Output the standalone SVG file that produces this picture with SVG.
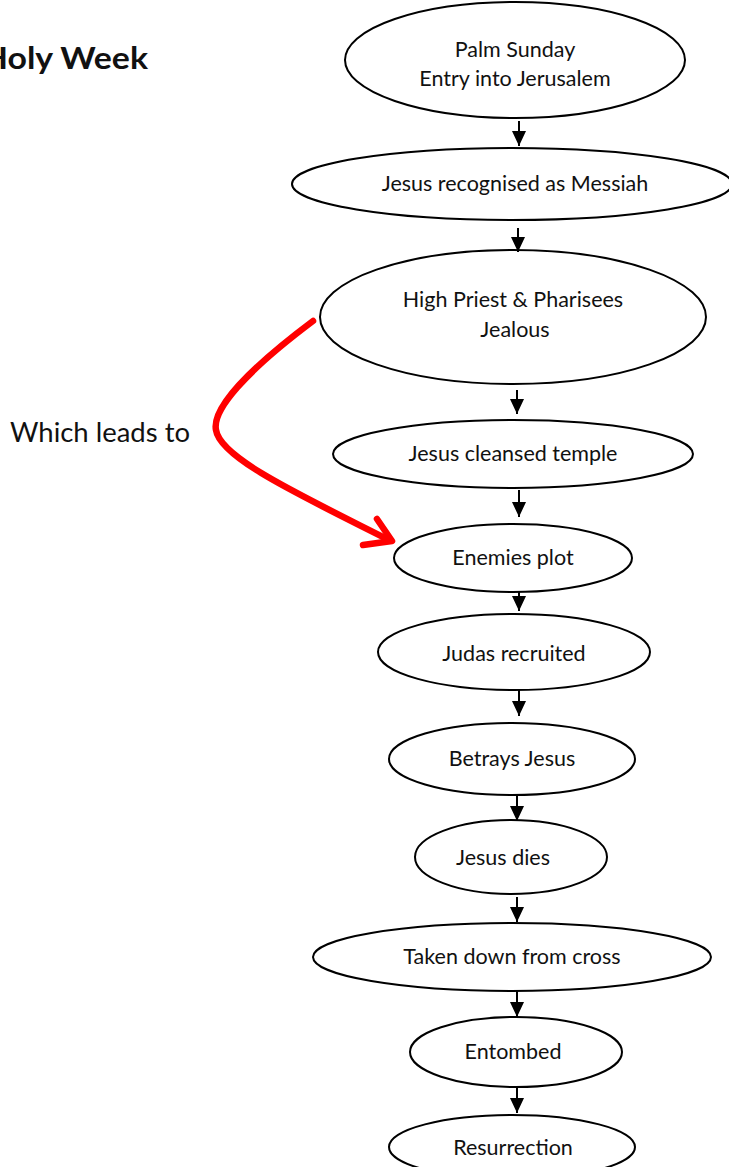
<svg xmlns="http://www.w3.org/2000/svg" width="729" height="1167" viewBox="0 0 729 1167">
<style>
.n ellipse{fill:#fff;stroke:#000;stroke-width:2}
.n text{font-family:Lato,"Liberation Sans",sans-serif;font-size:21.5px;fill:#111;text-anchor:middle}
.c line{stroke:#000;stroke-width:2}
</style>
<defs>
<marker id="ah" viewBox="0 0 15 14" refX="15" refY="7" markerWidth="15" markerHeight="14" markerUnits="userSpaceOnUse" orient="auto">
<path d="M0,0 L15,7 L0,14 z" fill="#000"/>
</marker>
</defs>
<rect width="729" height="1167" fill="#fff"/>
<text id="title" x="148" y="69" text-anchor="end" font-family="Lato,'Liberation Sans',sans-serif" font-weight="bold" font-size="30" textLength="166" lengthAdjust="spacingAndGlyphs" fill="#111">Holy Week</text>
<text id="label" x="10" y="442" font-family="Lato,'Liberation Sans',sans-serif" font-size="27" textLength="180" lengthAdjust="spacingAndGlyphs" fill="#111">Which leads to</text>
<g id="n1" class="n"><ellipse cx="515" cy="60" rx="170" ry="58"/><text x="515" y="57">Palm Sunday</text><text x="515" y="86">Entry into Jerusalem</text></g>
<g id="n2" class="n"><ellipse cx="512" cy="184" rx="220" ry="36"/><text x="515" y="191">Jesus recognised as Messiah</text></g>
<g id="n3" class="n"><ellipse cx="513" cy="317" rx="193" ry="67"/><text x="513" y="307">High Priest &amp; Pharisees</text><text x="515" y="337">Jealous</text></g>
<g id="n4" class="n"><ellipse cx="513" cy="454" rx="180" ry="34"/><text x="513" y="461">Jesus cleansed temple</text></g>
<g id="n5" class="n"><ellipse cx="513" cy="558" rx="119" ry="34"/><text x="513" y="565">Enemies plot</text></g>
<g id="n6" class="n"><ellipse cx="514" cy="652" rx="136" ry="38"/><text x="514" y="661">Judas recruited</text></g>
<g id="n7" class="n"><ellipse cx="512" cy="759" rx="123" ry="36"/><text x="512" y="766">Betrays Jesus</text></g>
<g id="n8" class="n"><ellipse cx="511" cy="857" rx="96" ry="37"/><text x="503" y="865">Jesus dies</text></g>
<g id="n9" class="n"><ellipse cx="512" cy="957" rx="199" ry="34"/><text x="512" y="964">Taken down from cross</text></g>
<g id="n10" class="n"><ellipse cx="516" cy="1052" rx="106" ry="35"/><text x="513" y="1059">Entombed</text></g>
<g id="n11" class="n"><ellipse cx="512" cy="1147" rx="123" ry="32"/><text x="513" y="1155">Resurrection</text></g>
<g id="connectors" class="c">
<line x1="519" y1="121" x2="519" y2="146" marker-end="url(#ah)"/>
<line x1="518" y1="228" x2="518" y2="252" marker-end="url(#ah)"/>
<line x1="517" y1="390" x2="517" y2="414" marker-end="url(#ah)"/>
<line x1="519" y1="490" x2="519" y2="517" marker-end="url(#ah)"/>
<line x1="519" y1="592" x2="519" y2="611" marker-end="url(#ah)"/>
<line x1="519" y1="690" x2="519" y2="716" marker-end="url(#ah)"/>
<line x1="517" y1="795" x2="517" y2="821" marker-end="url(#ah)"/>
<line x1="517" y1="897" x2="517" y2="922" marker-end="url(#ah)"/>
<line x1="517" y1="991" x2="517" y2="1017" marker-end="url(#ah)"/>
<line x1="517" y1="1088" x2="517" y2="1113" marker-end="url(#ah)"/>
<g fill="none" stroke="#f00" stroke-width="6.5" stroke-linecap="round" stroke-linejoin="round">
<path d="M313,321 C245,372 212,410 216,430 C220,458 300,495 389,540"/>
<polyline points="377,519 392,541 363,545"/>
</g>
</g>
</svg>
